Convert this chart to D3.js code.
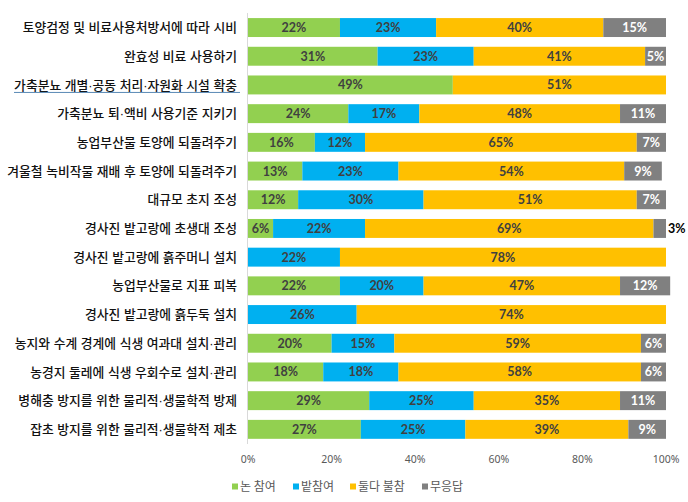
<!DOCTYPE html>
<html>
<head>
<meta charset="utf-8">
<script src="https://cdn.jsdelivr.net/npm/d3@7/dist/d3.min.js"></script>
<style>
html,body{margin:0;padding:0;background:#fff;}
svg{display:block;}
</style>
</head>
<body>
<svg id="chart" width="688" height="502"></svg>
<script>
const categories = [
  "토양검정 및 비료사용처방서에 따라 시비",
  "완효성 비료 사용하기",
  "가축분뇨 개별·공동 처리·자원화 시설 확충",
  "가축분뇨 퇴·액비 사용기준 지키기",
  "농업부산물 토양에 되돌려주기",
  "겨울철 녹비작물 재배 후 토양에 되돌려주기",
  "대규모 초지 조성",
  "경사진 밭고랑에 초생대 조성",
  "경사진 밭고랑에 흙주머니 설치",
  "농업부산물로 지표 피복",
  "경사진 밭고랑에 흙두둑 설치",
  "농지와 수계 경계에 식생 여과대 설치·관리",
  "농경지 둘레에 식생 우회수로 설치·관리",
  "병해충 방지를 위한 물리적·생물학적 방제",
  "잡초 방지를 위한 물리적·생물학적 제초"
];
const seriesNames = ["논 참여", "밭참여", "둘다 불참", "무응답"];
const paddy   = [22, 31, 49, 24, 16, 13, 12, 6, 0, 22, 0, 20, 18, 29, 27];
const upland  = [23, 23, 0, 17, 12, 23, 30, 22, 22, 20, 26, 15, 18, 25, 25];
const neither = [40, 41, 51, 48, 65, 54, 51, 69, 78, 47, 74, 59, 58, 35, 39];
const noAnswer= [15, 5, 0, 11, 7, 9, 7, 3, 0, 12, 0, 6, 6, 11, 9];
const xTicks = [0, 20, 40, 60, 80, 100];
const colors = ["#92D050", "#00B0F0", "#FFC000", "#808080"];
const labelColors = ["#404040", "#404040", "#404040", "#ffffff"];

const svg = d3.select("#chart");
const x = d3.scaleLinear().domain([0, 100]).range([248, 666]);
const y = d3.scaleBand().domain(d3.range(categories.length))
  .range([13.2, 443.7]).paddingInner(0.34).paddingOuter(0.17);

const rows = categories.map((c, i) => {
  const vals = [paddy[i], upland[i], neither[i], noAnswer[i]];
  let acc = 0;
  return vals.map((v, k) => { const s = {row: i, k, v, x0: acc, x1: acc + v}; acc += v; return s; });
});

// axis line
svg.append("line").attr("x1", 247.5).attr("x2", 247.5).attr("y1", 13).attr("y2", 444)
  .attr("stroke", "#d9d9d9").attr("stroke-width", 1);

const segs = rows.flat().filter(d => d.v > 0);
svg.append("g").selectAll("rect").data(segs).join("rect")
  .attr("x", d => x(d.x0)).attr("width", d => x(d.x1) - x(d.x0))
  .attr("y", d => y(d.row)).attr("height", y.bandwidth())
  .attr("fill", d => colors[d.k]);

svg.append("g").selectAll("text").data(segs).join("text")
  .attr("x", d => (d.row === 7 && d.k === 3) ? x(d.x1) + 2 : (x(d.x0) + x(d.x1)) / 2)
  .attr("y", d => y(d.row) + y.bandwidth() / 2)
  .attr("dy", "0.36em")
  .attr("text-anchor", d => (d.row === 7 && d.k === 3) ? "start" : "middle")
  .attr("font-family", "Lato, 'Open Sans', sans-serif")
  .attr("font-weight", "bold").attr("font-size", 12.5)
  .attr("fill", d => (d.row === 7 && d.k === 3) ? "#000" : labelColors[d.k])
  .text(d => d.v + "%");

// category labels
svg.append("g").selectAll("text").data(categories).join("text")
  .attr("x", 237).attr("y", (d, i) => y(i) + y.bandwidth() / 2)
  .attr("dy", "0.36em").attr("text-anchor", "end")
  .attr("font-family", "'Liberation Sans', 'Noto Sans CJK KR', sans-serif")
  .attr("font-size", 12.8).attr("font-weight", 500).attr("fill", "#111")
  .text(d => d);

// underline under row 3
svg.append("line").attr("x1", 14).attr("x2", 240)
  .attr("y1", y(2) + y.bandwidth() / 2 + 7.5).attr("y2", y(2) + y.bandwidth() / 2 + 7.5)
  .attr("stroke", "#5a8ab5").attr("stroke-width", 1);

// x tick labels
svg.append("g").selectAll("text").data(xTicks).join("text")
  .attr("x", d => x(d)).attr("y", 459).attr("dy", "0.36em")
  .attr("text-anchor", "middle")
  .attr("font-family", "'Noto Sans', sans-serif").attr("font-size", 10.5)
  .attr("fill", "#595959").text(d => d + "%");

// legend
const legX = [232, 293, 350, 422];
const leg = svg.append("g").selectAll("g").data(seriesNames).join("g")
  .attr("transform", (d, i) => `translate(${legX[i]},487)`);
leg.append("rect").attr("x", 0).attr("y", -3.5).attr("width", 6).attr("height", 6)
  .attr("fill", (d, i) => colors[i]);
leg.append("text").attr("x", 8).attr("y", 0).attr("dy", "0.36em")
  .attr("font-family", "'Noto Sans CJK KR', sans-serif").attr("font-size", 12)
  .attr("fill", "#595959").text(d => d);
</script>
</body>
</html>
